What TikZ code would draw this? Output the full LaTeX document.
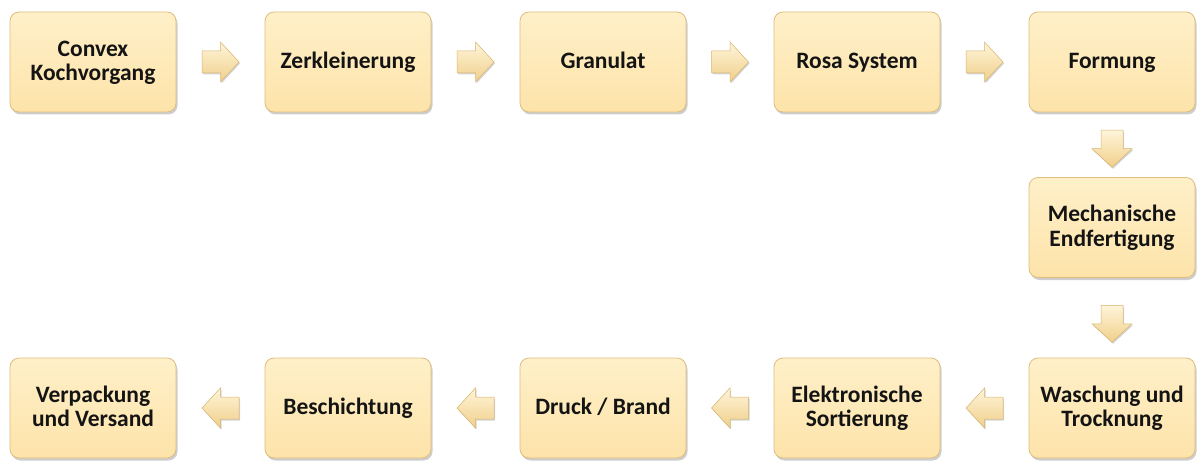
\documentclass[tikz,border=0pt]{standalone}
\usepackage{fontspec}
\setmainfont{Carlito}
\usetikzlibrary{shadows,calc}
\definecolor{boxtop}{HTML}{FFF0C9}
\definecolor{boxbot}{HTML}{FDE3A9}
\definecolor{boxedge}{HTML}{DDBD7E}
\definecolor{arrtop}{HTML}{FFF5DA}
\definecolor{arrbot}{HTML}{F0CF8A}
\definecolor{arredge}{HTML}{D6B36C}
\newcommand{\tl}[1]{\rule[-4pt]{0pt}{21pt}#1}
\begin{document}
\begin{tikzpicture}[x=1pt,y=-1pt,
  stepbox/.style={draw=boxedge, line width=0.8pt, rounded corners=9pt,
    top color=boxtop, bottom color=boxbot,
    minimum width=166pt, minimum height=100pt, inner sep=2pt,
    align=center, font=\fontsize{23.5}{24.5}\selectfont\bfseries, text=black!92,
    drop shadow={shadow xshift=1.5pt, shadow yshift=-2.5pt, opacity=0.35, fill=black!55}},
  arrowstyle/.style={draw=arredge, line width=0.5pt, top color=arrtop, bottom color=arrbot,
    drop shadow={shadow xshift=1pt, shadow yshift=-1.5pt, opacity=0.3, fill=black!55}},
  blockarrow/.pic={\path[arrowstyle] (-18.5,-11) -- (0,-11) -- (0,-20) -- (18.5,0) -- (0,20) -- (0,11) -- (-18.5,11) -- cycle;}
]
\useasboundingbox (0,0) rectangle (1198,462);
\node[stepbox] (n1) at (93,62) {\tl{Convex}\\\tl{Kochvorgang}};
\node[stepbox] (n2) at (348,62) {\tl{Zerkleinerung}};
\node[stepbox] (n3) at (603,62) {\tl{Granulat}};
\node[stepbox] (n4) at (857,62) {\tl{Rosa System}};
\node[stepbox] (n5) at (1112,62) {\tl{Formung}};
\node[stepbox] (n6) at (1112,227.5) {\tl{Mechanische}\\\tl{Endfertigung}};
\node[stepbox] (n7) at (1112,408) {\tl{Waschung und}\\\tl{Trocknung}};
\node[stepbox] (n8) at (857,408) {\tl{Elektronische}\\\tl{Sortierung}};
\node[stepbox] (n9) at (603,408) {\tl{Druck / Brand}};
\node[stepbox] (n10) at (348,408) {\tl{Beschichtung}};
\node[stepbox] (n11) at (93,408) {\tl{Verpackung}\\\tl{und Versand}};
\pic at ($(n1.east)!0.5!(n2.west)$) {blockarrow};
\pic at ($(n2.east)!0.5!(n3.west)$) {blockarrow};
\pic at ($(n3.east)!0.5!(n4.west)$) {blockarrow};
\pic at ($(n4.east)!0.5!(n5.west)$) {blockarrow};
\pic[rotate=-90] at ($(n5.south)!0.5!(n6.north)+(0,4)$) {blockarrow};
\pic[rotate=-90] at ($(n6.south)!0.5!(n7.north)+(0,6)$) {blockarrow};
\pic[rotate=180] at ($(n7.west)!0.5!(n8.east)$) {blockarrow};
\pic[rotate=180] at ($(n8.west)!0.5!(n9.east)$) {blockarrow};
\pic[rotate=180] at ($(n9.west)!0.5!(n10.east)$) {blockarrow};
\pic[rotate=180] at ($(n10.west)!0.5!(n11.east)$) {blockarrow};
\end{tikzpicture}
\end{document}
